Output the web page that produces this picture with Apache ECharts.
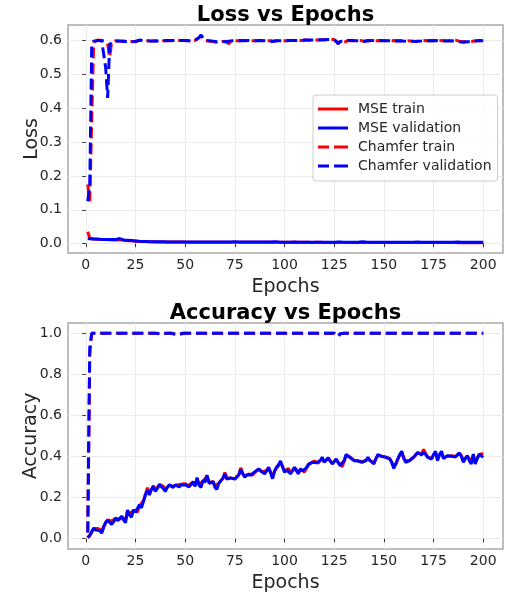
<!DOCTYPE html>
<html>
<head>
<meta charset="utf-8">
<script src="https://cdn.jsdelivr.net/npm/echarts@6/dist/echarts.min.js"></script>
<style>
  html, body { margin: 0; padding: 0; background: #fff; }
  #chart { width: 514px; height: 594px; }
</style>
</head>
<body>
<div id="chart"></div>
<script>
// epochs 1..200
const epochs = Array.from({ length: 200 }, (_, i) => i + 1);

const xTicks = [0, 25, 50, 75, 100, 125, 150, 175, 200];
const lossTicks = [0, 0.1, 0.2, 0.3, 0.4, 0.5, 0.6];
const accTicks = [0, 0.2, 0.4, 0.6, 0.8, 1.0];

const legendNames = ['MSE train', 'MSE validation', 'Chamfer train', 'Chamfer validation'];

// loss curves
const mseTrainLoss = [
  0.035, 0.016, 0.014, 0.0135, 0.013, 0.013, 0.0125, 0.0125, 0.012, 0.012,
  0.012, 0.0115, 0.0115, 0.011, 0.011, 0.011, 0.012, 0.0105, 0.010, 0.0095,
  0.009, 0.0085, 0.008, 0.0078, 0.0075, 0.007, 0.0068, 0.0065, 0.0062, 0.006,
  0.0058, 0.0056, 0.0055, 0.0054, 0.0053, 0.0052, 0.0051, 0.005, 0.005, 0.0049,
  0.0049, 0.0048, 0.0048, 0.0048, 0.0047, 0.0047, 0.0047, 0.0046, 0.0046, 0.0046,
  0.0045, 0.0045, 0.0046, 0.0045, 0.0044, 0.0045, 0.0044, 0.0044, 0.0045, 0.0044,
  0.0044, 0.0043, 0.0044, 0.0043, 0.0043, 0.0044, 0.0043, 0.0042, 0.0043, 0.0042,
  0.0043, 0.0042, 0.0042, 0.0043, 0.0042, 0.0041, 0.0042, 0.0041, 0.0042, 0.0041,
  0.0041, 0.0042, 0.0041, 0.0040, 0.0041, 0.0041, 0.0040, 0.0041, 0.0040, 0.0040,
  0.0041, 0.0040, 0.0040, 0.0039, 0.0040, 0.0040, 0.0039, 0.0040, 0.0039, 0.0039,
  0.0040, 0.0039, 0.0039, 0.0038, 0.0039, 0.0039, 0.0038, 0.0039, 0.0038, 0.0038,
  0.0039, 0.0038, 0.0038, 0.0037, 0.0038, 0.0038, 0.0037, 0.0038, 0.0037, 0.0037,
  0.0038, 0.0037, 0.0037, 0.0036, 0.0037, 0.0037, 0.0038, 0.0036, 0.0037, 0.0036,
  0.0036, 0.0037, 0.0036, 0.0036, 0.0035, 0.0036, 0.0036, 0.0035, 0.0036, 0.0035,
  0.0035, 0.0036, 0.0035, 0.0035, 0.0034, 0.0035, 0.0035, 0.0034, 0.0035, 0.0034,
  0.0034, 0.0035, 0.0034, 0.0034, 0.0033, 0.0034, 0.0034, 0.0033, 0.0034, 0.0033,
  0.0033, 0.0034, 0.0033, 0.0033, 0.0032, 0.0033, 0.0033, 0.0032, 0.0033, 0.0032,
  0.0032, 0.0033, 0.0032, 0.0032, 0.0031, 0.0032, 0.0032, 0.0031, 0.0032, 0.0031,
  0.0031, 0.0032, 0.0031, 0.0031, 0.0030, 0.0031, 0.0031, 0.0030, 0.0031, 0.0030,
  0.0030, 0.0031, 0.0030, 0.0030, 0.0030, 0.0031, 0.0030, 0.0030, 0.0030, 0.0030
];
const mseValLoss = [
  0.015, 0.0145, 0.014, 0.0138, 0.0135, 0.0132, 0.013, 0.0128, 0.0126, 0.0125,
  0.0124, 0.0123, 0.0122, 0.012, 0.012, 0.0125, 0.015, 0.012, 0.011, 0.0105,
  0.010, 0.0095, 0.009, 0.0085, 0.008, 0.0075, 0.007, 0.0068, 0.0065, 0.0062,
  0.006, 0.0058, 0.0057, 0.0056, 0.0055, 0.0055, 0.0054, 0.0053, 0.0053, 0.0052,
  0.0052, 0.0051, 0.0051, 0.0050, 0.0051, 0.0050, 0.0050, 0.0051, 0.0050, 0.0049,
  0.0050, 0.0049, 0.0050, 0.0049, 0.0049, 0.0050, 0.0049, 0.0048, 0.0049, 0.0049,
  0.0048, 0.0049, 0.0048, 0.0048, 0.0049, 0.0048, 0.0048, 0.0047, 0.0048, 0.0048,
  0.0047, 0.0048, 0.0048, 0.0052, 0.0060, 0.0050, 0.0048, 0.0047, 0.0048, 0.0047,
  0.0047, 0.0048, 0.0047, 0.0047, 0.0046, 0.0047, 0.0047, 0.0046, 0.0047, 0.0046,
  0.0046, 0.0047, 0.0046, 0.0055, 0.0058, 0.0048, 0.0046, 0.0046, 0.0045, 0.0046,
  0.0045, 0.0046, 0.0045, 0.0045, 0.0046, 0.0045, 0.0045, 0.0044, 0.0045, 0.0045,
  0.0044, 0.0045, 0.0044, 0.0044, 0.0045, 0.0044, 0.0044, 0.0043, 0.0044, 0.0044,
  0.0043, 0.0044, 0.0044, 0.0043, 0.0044, 0.0043, 0.0052, 0.0056, 0.0046, 0.0043,
  0.0043, 0.0044, 0.0043, 0.0043, 0.0042, 0.0043, 0.0043, 0.0050, 0.0057, 0.0060,
  0.0047, 0.0043, 0.0042, 0.0043, 0.0042, 0.0042, 0.0043, 0.0042, 0.0042, 0.0041,
  0.0042, 0.0042, 0.0041, 0.0042, 0.0041, 0.0041, 0.0042, 0.0041, 0.0041, 0.0040,
  0.0041, 0.0041, 0.0040, 0.0041, 0.0040, 0.0041, 0.0048, 0.0052, 0.0042, 0.0040,
  0.0040, 0.0041, 0.0040, 0.0040, 0.0041, 0.0040, 0.0040, 0.0041, 0.0040, 0.0040,
  0.0041, 0.0040, 0.0040, 0.0041, 0.0040, 0.0046, 0.0050, 0.0041, 0.0040, 0.0040,
  0.0041, 0.0040, 0.0040, 0.0041, 0.0040, 0.0040, 0.0041, 0.0040, 0.0040, 0.0041
];
const chamferTrainLoss = [
  0.175, 0.125, 0.370, 0.595, 0.600, 0.601, 0.600, 0.600, 0.599, 0.598,
  0.590, 0.550, 0.594, 0.598, 0.599, 0.599, 0.598, 0.598, 0.598, 0.598,
  0.598, 0.597, 0.597, 0.596, 0.597, 0.599, 0.600, 0.601, 0.600, 0.599,
  0.599, 0.598, 0.598, 0.598, 0.599, 0.599, 0.598, 0.598, 0.599, 0.600,
  0.600, 0.600, 0.599, 0.600, 0.601, 0.600, 0.600, 0.599, 0.600, 0.600,
  0.599, 0.598, 0.599, 0.600, 0.600, 0.603, 0.608, 0.614, 0.606, 0.599,
  0.598, 0.598, 0.599, 0.597, 0.598, 0.594, 0.590, 0.596, 0.598, 0.598,
  0.596, 0.590, 0.597, 0.599, 0.599, 0.600, 0.599, 0.600, 0.600, 0.599,
  0.600, 0.600, 0.599, 0.600, 0.599, 0.600, 0.600, 0.599, 0.600, 0.600,
  0.599, 0.598, 0.599, 0.598, 0.598, 0.599, 0.600, 0.599, 0.599, 0.600,
  0.599, 0.599, 0.600, 0.599, 0.600, 0.600, 0.600, 0.599, 0.600, 0.600,
  0.601, 0.600, 0.600, 0.601, 0.601, 0.600, 0.601, 0.602, 0.601, 0.601,
  0.602, 0.602, 0.603, 0.602, 0.603, 0.600, 0.591, 0.598, 0.596, 0.594,
  0.598, 0.600, 0.600, 0.599, 0.600, 0.599, 0.599, 0.600, 0.599, 0.598,
  0.599, 0.600, 0.599, 0.599, 0.600, 0.599, 0.599, 0.600, 0.599, 0.599,
  0.600, 0.600, 0.599, 0.599, 0.600, 0.600, 0.599, 0.599, 0.598, 0.598,
  0.598, 0.599, 0.598, 0.598, 0.597, 0.597, 0.598, 0.599, 0.599, 0.600,
  0.600, 0.599, 0.599, 0.600, 0.600, 0.599, 0.600, 0.600, 0.599, 0.599,
  0.600, 0.599, 0.599, 0.600, 0.600, 0.601, 0.599, 0.598, 0.597, 0.596,
  0.596, 0.597, 0.596, 0.597, 0.598, 0.599, 0.599, 0.600, 0.600, 0.600
];
const chamferValLoss = [
  0.125, 0.170, 0.590, 0.598, 0.600, 0.600, 0.600, 0.600, 0.598, 0.520,
  0.430, 0.585, 0.596, 0.598, 0.598, 0.598, 0.598, 0.598, 0.597, 0.597,
  0.597, 0.597, 0.596, 0.595, 0.597, 0.599, 0.601, 0.601, 0.600, 0.599,
  0.599, 0.598, 0.598, 0.598, 0.598, 0.599, 0.598, 0.599, 0.599, 0.600,
  0.600, 0.599, 0.600, 0.600, 0.600, 0.601, 0.600, 0.600, 0.600, 0.600,
  0.600, 0.599, 0.598, 0.600, 0.601, 0.604, 0.609, 0.616, 0.607, 0.600,
  0.598, 0.599, 0.598, 0.598, 0.597, 0.596, 0.597, 0.598, 0.597, 0.596,
  0.597, 0.598, 0.598, 0.599, 0.599, 0.599, 0.600, 0.600, 0.599, 0.599,
  0.599, 0.600, 0.600, 0.599, 0.599, 0.599, 0.600, 0.600, 0.599, 0.599,
  0.598, 0.598, 0.597, 0.597, 0.598, 0.599, 0.599, 0.599, 0.599, 0.599,
  0.599, 0.600, 0.600, 0.600, 0.599, 0.600, 0.600, 0.600, 0.600, 0.601,
  0.601, 0.601, 0.600, 0.601, 0.601, 0.601, 0.602, 0.602, 0.602, 0.602,
  0.603, 0.603, 0.604, 0.603, 0.602, 0.598, 0.590, 0.597, 0.599, 0.598,
  0.599, 0.600, 0.600, 0.600, 0.599, 0.599, 0.600, 0.599, 0.598, 0.597,
  0.598, 0.599, 0.599, 0.600, 0.599, 0.599, 0.599, 0.600, 0.599, 0.599,
  0.599, 0.599, 0.600, 0.599, 0.599, 0.598, 0.599, 0.599, 0.598, 0.598,
  0.597, 0.597, 0.598, 0.598, 0.597, 0.597, 0.596, 0.598, 0.599, 0.599,
  0.599, 0.599, 0.600, 0.599, 0.599, 0.600, 0.599, 0.599, 0.600, 0.599,
  0.598, 0.598, 0.599, 0.599, 0.599, 0.598, 0.597, 0.596, 0.595, 0.595,
  0.595, 0.596, 0.595, 0.596, 0.597, 0.598, 0.598, 0.599, 0.599, 0.599
];

// accuracy curves
const mseTrainAcc = [
  0.005, 0.018, 0.032, 0.048, 0.045, 0.050, 0.052, 0.040, 0.060, 0.080,
  0.092, 0.095, 0.085, 0.090, 0.100, 0.098, 0.094, 0.110, 0.100, 0.090,
  0.135, 0.120, 0.112, 0.138, 0.135, 0.130, 0.160, 0.155, 0.185, 0.215,
  0.248, 0.220, 0.238, 0.258, 0.240, 0.250, 0.265, 0.260, 0.255, 0.240,
  0.248, 0.260, 0.262, 0.255, 0.260, 0.262, 0.258, 0.265, 0.270, 0.268,
  0.262, 0.258, 0.270, 0.275, 0.262, 0.290, 0.265, 0.258, 0.280, 0.280,
  0.305, 0.280, 0.270, 0.280, 0.258, 0.250, 0.270, 0.282, 0.292, 0.322,
  0.295, 0.288, 0.295, 0.298, 0.292, 0.290, 0.312, 0.345, 0.318, 0.305,
  0.312, 0.315, 0.312, 0.310, 0.322, 0.330, 0.338, 0.332, 0.326, 0.320,
  0.332, 0.345, 0.325, 0.300, 0.328, 0.345, 0.355, 0.372, 0.352, 0.330,
  0.338, 0.342, 0.322, 0.332, 0.345, 0.335, 0.322, 0.338, 0.332, 0.325,
  0.342, 0.358, 0.368, 0.372, 0.378, 0.372, 0.368, 0.382, 0.392, 0.375,
  0.368, 0.390, 0.380, 0.368, 0.372, 0.385, 0.372, 0.360, 0.350, 0.375,
  0.405, 0.408, 0.398, 0.390, 0.382, 0.376, 0.380, 0.382, 0.375, 0.370,
  0.382, 0.392, 0.382, 0.376, 0.370, 0.388, 0.405, 0.408, 0.402, 0.400,
  0.398, 0.395, 0.390, 0.372, 0.350, 0.362, 0.385, 0.408, 0.420, 0.395,
  0.378, 0.370, 0.382, 0.390, 0.398, 0.408, 0.418, 0.415, 0.412, 0.435,
  0.415, 0.400, 0.395, 0.390, 0.408, 0.420, 0.385, 0.408, 0.420, 0.395,
  0.392, 0.402, 0.400, 0.404, 0.400, 0.400, 0.402, 0.415, 0.405, 0.380,
  0.392, 0.402, 0.390, 0.375, 0.405, 0.375, 0.392, 0.410, 0.412, 0.415
];
const mseValAcc = [
  0.005, 0.015, 0.035, 0.052, 0.042, 0.038, 0.040, 0.027, 0.055, 0.078,
  0.090, 0.092, 0.070, 0.082, 0.100, 0.088, 0.085, 0.107, 0.092, 0.078,
  0.140, 0.115, 0.105, 0.140, 0.130, 0.125, 0.165, 0.150, 0.180, 0.213,
  0.235, 0.213, 0.240, 0.253, 0.230, 0.245, 0.262, 0.255, 0.245, 0.230,
  0.250, 0.262, 0.258, 0.250, 0.262, 0.258, 0.252, 0.262, 0.270, 0.262,
  0.258, 0.252, 0.265, 0.278, 0.255, 0.298, 0.260, 0.250, 0.285, 0.275,
  0.310, 0.270, 0.265, 0.278, 0.250, 0.240, 0.272, 0.280, 0.295, 0.315,
  0.290, 0.284, 0.296, 0.300, 0.290, 0.284, 0.310, 0.338, 0.315, 0.300,
  0.310, 0.318, 0.310, 0.308, 0.325, 0.332, 0.340, 0.330, 0.324, 0.316,
  0.330, 0.348, 0.320, 0.292, 0.330, 0.348, 0.360, 0.378, 0.350, 0.324,
  0.335, 0.340, 0.316, 0.330, 0.348, 0.330, 0.316, 0.340, 0.330, 0.322,
  0.345, 0.362, 0.370, 0.372, 0.380, 0.370, 0.364, 0.380, 0.396, 0.372,
  0.364, 0.394, 0.378, 0.364, 0.375, 0.388, 0.370, 0.356, 0.348, 0.380,
  0.410, 0.410, 0.395, 0.388, 0.380, 0.372, 0.378, 0.380, 0.372, 0.364,
  0.380, 0.396, 0.380, 0.372, 0.364, 0.390, 0.410, 0.404, 0.400, 0.398,
  0.396, 0.392, 0.388, 0.370, 0.342, 0.365, 0.388, 0.410, 0.426, 0.390,
  0.372, 0.364, 0.380, 0.388, 0.396, 0.405, 0.420, 0.412, 0.408, 0.420,
  0.410, 0.396, 0.392, 0.388, 0.410, 0.426, 0.380, 0.410, 0.426, 0.390,
  0.388, 0.404, 0.400, 0.402, 0.396, 0.398, 0.400, 0.418, 0.400, 0.372,
  0.390, 0.404, 0.380, 0.364, 0.412, 0.364, 0.390, 0.412, 0.405, 0.396
];
const chamferTrainAcc = [
  0.030, 0.900, 1.000, 1.000, 1.000, 1.000, 1.000, 1.000, 1.000, 1.000,
  1.000, 1.000, 1.000, 1.000, 1.000, 1.000, 1.000, 1.000, 1.000, 1.000,
  1.000, 1.000, 1.000, 1.000, 1.000, 1.000, 1.000, 1.000, 1.000, 1.000,
  1.000, 1.000, 1.000, 1.000, 1.000, 1.000, 0.999, 0.998, 1.000, 1.000,
  1.000, 1.000, 1.000, 1.000, 0.996, 0.991, 0.997, 1.000, 1.000, 1.000,
  1.000, 0.999, 1.000, 1.000, 1.000, 1.000, 1.000, 1.000, 1.000, 1.000,
  1.000, 1.000, 1.000, 1.000, 1.000, 1.000, 1.000, 1.000, 1.000, 1.000,
  1.000, 1.000, 1.000, 1.000, 1.000, 1.000, 1.000, 1.000, 1.000, 1.000,
  1.000, 1.000, 1.000, 1.000, 1.000, 1.000, 1.000, 1.000, 1.000, 1.000,
  1.000, 1.000, 1.000, 1.000, 1.000, 1.000, 1.000, 1.000, 1.000, 1.000,
  1.000, 1.000, 1.000, 1.000, 1.000, 1.000, 1.000, 1.000, 1.000, 1.000,
  1.000, 1.000, 1.000, 1.000, 1.000, 1.000, 1.000, 1.000, 1.000, 1.000,
  1.000, 1.000, 1.000, 1.000, 1.000, 0.998, 0.984, 0.997, 1.000, 1.000,
  1.000, 1.000, 1.000, 1.000, 1.000, 1.000, 1.000, 1.000, 1.000, 1.000,
  1.000, 1.000, 1.000, 1.000, 1.000, 1.000, 1.000, 1.000, 1.000, 1.000,
  1.000, 1.000, 1.000, 1.000, 1.000, 1.000, 1.000, 1.000, 1.000, 1.000,
  1.000, 1.000, 1.000, 1.000, 1.000, 1.000, 1.000, 1.000, 1.000, 1.000,
  1.000, 1.000, 1.000, 1.000, 1.000, 1.000, 1.000, 1.000, 1.000, 1.000,
  1.000, 1.000, 1.000, 1.000, 1.000, 1.000, 1.000, 1.000, 1.000, 1.000,
  1.000, 1.000, 1.000, 1.000, 1.000, 1.000, 1.000, 1.000, 1.000, 1.000
];
const chamferValAcc = [
  0.030, 0.930, 1.000, 1.000, 1.000, 1.000, 1.000, 1.000, 1.000, 1.000,
  1.000, 1.000, 1.000, 1.000, 1.000, 1.000, 1.000, 1.000, 1.000, 1.000,
  1.000, 1.000, 1.000, 1.000, 1.000, 1.000, 1.000, 1.000, 1.000, 1.000,
  1.000, 1.000, 1.000, 1.000, 1.000, 1.000, 0.998, 0.996, 0.999, 1.000,
  1.000, 1.000, 1.000, 1.000, 0.995, 0.989, 0.994, 1.000, 1.000, 1.000,
  1.000, 0.998, 1.000, 1.000, 1.000, 1.000, 1.000, 1.000, 1.000, 1.000,
  1.000, 1.000, 1.000, 1.000, 1.000, 1.000, 1.000, 1.000, 1.000, 1.000,
  1.000, 1.000, 1.000, 1.000, 1.000, 1.000, 1.000, 1.000, 1.000, 1.000,
  1.000, 1.000, 1.000, 1.000, 1.000, 1.000, 1.000, 1.000, 1.000, 1.000,
  1.000, 1.000, 1.000, 1.000, 1.000, 1.000, 1.000, 1.000, 1.000, 1.000,
  1.000, 1.000, 1.000, 1.000, 1.000, 1.000, 1.000, 1.000, 1.000, 1.000,
  1.000, 1.000, 1.000, 1.000, 1.000, 1.000, 1.000, 1.000, 1.000, 1.000,
  1.000, 1.000, 1.000, 1.000, 1.000, 0.998, 0.986, 0.998, 1.000, 1.000,
  1.000, 1.000, 1.000, 1.000, 1.000, 1.000, 1.000, 1.000, 1.000, 1.000,
  1.000, 1.000, 1.000, 1.000, 1.000, 1.000, 1.000, 1.000, 1.000, 1.000,
  1.000, 1.000, 1.000, 1.000, 1.000, 1.000, 1.000, 1.000, 1.000, 1.000,
  1.000, 1.000, 1.000, 1.000, 1.000, 1.000, 1.000, 1.000, 1.000, 1.000,
  1.000, 1.000, 1.000, 1.000, 1.000, 1.000, 1.000, 1.000, 1.000, 1.000,
  1.000, 1.000, 1.000, 1.000, 1.000, 1.000, 1.000, 1.000, 1.000, 1.000,
  1.000, 1.000, 1.000, 1.000, 1.000, 1.000, 1.000, 1.000, 1.000, 1.000
];

const RED = '#ff0000'
const BLUE = '#0000ff'
const FONT = 'DejaVu Sans'
const TXT = '#262626'

// legend glyphs: a thick bar for solid, two bars for dashed
const SOLID_ICON = 'path://M0,0h30v3h-30z'
const DASH_ICON = 'path://M0,0h11v3h-11zM16,0h14v3h-14z'

function pairs(vals) {
    return epochs.map((e, i) => [e, vals[i]])
}

function xAxisFor(gridIndex) {
    return {
        type: 'value', gridIndex: gridIndex,
        min: -8.95, max: 209.95,
        name: 'Epochs', nameLocation: 'middle', nameGap: 25, nameMoveOverlap: false,
        nameTextStyle: {fontSize: 19, color: TXT, fontFamily: FONT},
        axisLine: {show: false},
        axisTick: {show: true, customValues: xTicks, length: 3.5, lineStyle: {color: '#333', width: 1}},
        axisLabel: {customValues: xTicks, margin: 5, fontSize: 14, color: TXT, fontFamily: FONT},
        splitLine: {show: true, lineStyle: {color: '#ebebeb', width: 1}}
    }
}

function yAxisFor(gridIndex, name, gap, min, max, ticks) {
    return {
        type: 'value', gridIndex: gridIndex,
        min: min, max: max,
        name: name, nameLocation: 'middle', nameGap: gap, nameMoveOverlap: false,
        nameTextStyle: {fontSize: 19, color: TXT, fontFamily: FONT},
        axisLine: {show: false},
        axisTick: {show: true, customValues: ticks, length: 3.5, lineStyle: {color: '#333', width: 1}},
        axisLabel: {
            customValues: ticks, margin: 6, fontSize: 14, color: TXT, fontFamily: FONT,
            formatter: v => v.toFixed(1)
        },
        splitLine: {show: true, lineStyle: {color: '#ebebeb', width: 1}}
    }
}

function lineSeries(name, vals, color, dashed, idx) {
    return {
        name: name, type: 'line',
        xAxisIndex: idx, yAxisIndex: idx,
        data: pairs(vals),
        showSymbol: false, symbol: 'none',
        lineStyle: {color: color, width: 3, type: dashed ? [11, 5] : 'solid'},
        itemStyle: {color: color},
        z: 3
    }
}

const chart = echarts.init(document.getElementById('chart'), null, {renderer: 'canvas'})

chart.setOption({
    animation: false,
    backgroundColor: '#fff',
    textStyle: {fontFamily: FONT},
    title: [
        {text: 'Loss vs Epochs', left: 285.5, top: 5, textAlign: 'center', padding: 0,
            textStyle: {fontSize: 21, fontWeight: 'bold', color: '#000', fontFamily: FONT}},
        {text: 'Accuracy vs Epochs', left: 285.5, top: 303, textAlign: 'center', padding: 0,
            textStyle: {fontSize: 21, fontWeight: 'bold', color: '#000', fontFamily: FONT}}
    ],
    grid: [
        {left: 68, right: 11, top: 25, height: 228, show: true, borderColor: '#a8a8a8', borderWidth: 1.5, backgroundColor: 'transparent'},
        {left: 68, right: 11, top: 323, height: 228, show: true, borderColor: '#a8a8a8', borderWidth: 1.5, backgroundColor: 'transparent'}
    ],
    legend: {
        data: [
            {name: legendNames[0], icon: SOLID_ICON},
            {name: legendNames[1], icon: SOLID_ICON},
            {name: legendNames[2], icon: DASH_ICON},
            {name: legendNames[3], icon: DASH_ICON}
        ],
        orient: 'vertical',
        left: 313, top: 95,
        padding: [7, 6, 8, 5],
        itemWidth: 30, itemHeight: 3, itemGap: 5,
        backgroundColor: 'rgba(255,255,255,0.85)',
        borderColor: '#cccccc', borderWidth: 1, borderRadius: 3,
        textStyle: {fontSize: 14, color: TXT, fontFamily: FONT, padding: [0, 0, 0, 5]},
        selectedMode: false
    },
    xAxis: [xAxisFor(0), xAxisFor(1)],
    yAxis: [
        yAxisFor(0, 'Loss', 26, -0.0276, 0.6456, lossTicks),
        yAxisFor(1, 'Accuracy', 27, -0.05, 1.05, accTicks)
    ],
    series: [
        lineSeries('MSE train', mseTrainLoss, RED, false, 0),
        lineSeries('MSE validation', mseValLoss, BLUE, false, 0),
        lineSeries('Chamfer train', chamferTrainLoss, RED, true, 0),
        lineSeries('Chamfer validation', chamferValLoss, BLUE, true, 0),
        lineSeries('MSE train acc', mseTrainAcc, RED, false, 1),
        lineSeries('MSE validation acc', mseValAcc, BLUE, false, 1),
        lineSeries('Chamfer train acc', chamferTrainAcc, RED, true, 1),
        lineSeries('Chamfer validation acc', chamferValAcc, BLUE, true, 1)
    ]
})
</script>
</body>
</html>
